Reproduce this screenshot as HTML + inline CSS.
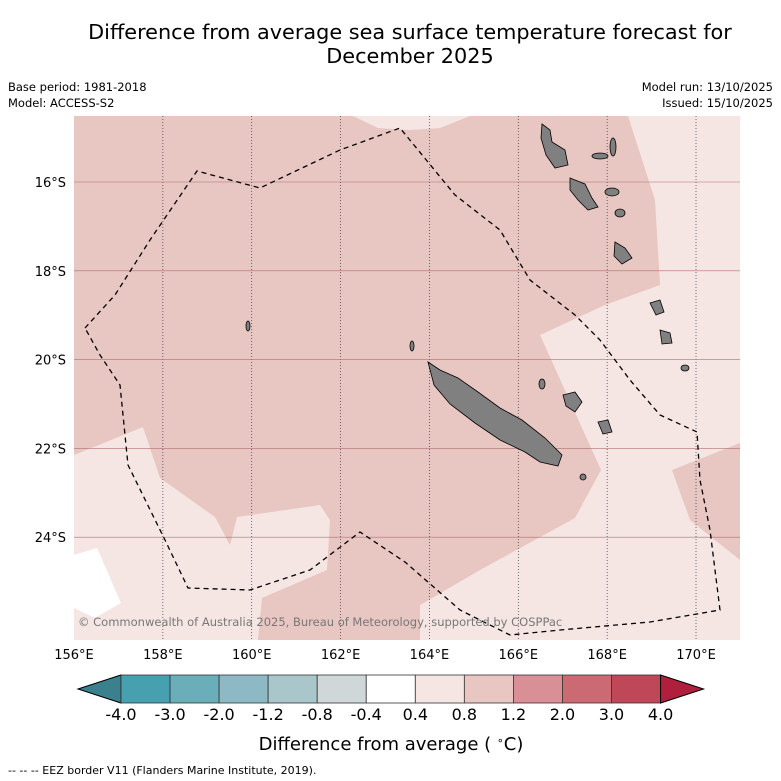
<!DOCTYPE html>
<html><head><meta charset="utf-8"><style>
body{margin:0;background:#fff;font-family:"DejaVu Sans","Liberation Sans",sans-serif}
svg{display:block}
</style></head><body>
<svg id="chart" width="781" height="781" viewBox="0 0 781 781" xmlns="http://www.w3.org/2000/svg" font-family="DejaVu Sans, Liberation Sans, sans-serif">
<text x="410" y="39" text-anchor="middle" font-size="20.8">Difference from average sea surface temperature forecast for</text>
<text x="410" y="63" text-anchor="middle" font-size="20.8">December 2025</text>
<text x="8" y="91" font-size="11.5">Base period: 1981-2018</text>
<text x="8" y="107" font-size="11.5">Model: ACCESS-S2</text>
<text x="773" y="91" font-size="11.5" text-anchor="end">Model run: 13/10/2025</text>
<text x="773" y="107" font-size="11.5" text-anchor="end">Issued: 15/10/2025</text>
<defs><clipPath id="mapclip"><rect x="74" y="116" width="666" height="524"/></clipPath></defs>
<g id="map" clip-path="url(#mapclip)">
<rect x="74" y="116" width="666" height="524" fill="#e8c6c1"/>
<polygon fill="#f5e6e4" points="74,455 143,427 160,478 215,517 230,545 237,517 320,505 330,520 327,570 262,598 258,640 74,640"/>
<polygon fill="#ffffff" points="74,555 97,548 121,603 95,618 74,608"/>
<polygon fill="#f5e6e4" points="353,116 378,128 410,130 440,128 470,116"/>
<polygon fill="#f5e6e4" points="628,116 655,200 660,285 605,305 540,335 601,470 575,518 480,570 420,605 420,640 740,640 740,560 690,520 672,470 740,443 740,116"/>
<g id="grid"></g>
<polyline fill="none" stroke="#000" stroke-width="1.3" stroke-dasharray="5,4" points="85,328 115,295 150,240 197,171 260,188 340,150 400,128 455,195 500,230 530,280 575,315 600,340 630,380 660,415 697,432 700,480 710,530 720,610 650,622 560,630 510,635 460,610 405,562 360,532 310,570 250,590 188,588 165,540 128,465 120,385 100,355 85,328"/>
<g fill="#808080" stroke="#000" stroke-width="0.8">
<polygon points="428,362 440,370 458,378 478,392 500,408 522,420 545,438 562,455 558,466 540,462 525,452 500,440 475,423 450,404 434,385"/>
<polygon points="542,124 550,130 552,142 565,150 568,165 555,168 546,155 541,138"/>
<polygon points="570,178 585,184 592,198 598,207 588,210 578,200 570,190"/>
<polygon points="615,242 625,248 632,258 622,264 614,256"/>
<polygon points="563,395 575,392 582,402 575,412 566,406"/>
<polygon points="598,422 608,420 612,432 603,434"/>
<polygon points="650,303 660,300 664,312 656,315"/>
<polygon points="660,330 670,333 672,343 662,344"/>
<ellipse cx="600" cy="156" rx="8" ry="3"/>
<ellipse cx="613" cy="147" rx="3" ry="9"/>
<ellipse cx="612" cy="192" rx="7" ry="4"/>
<ellipse cx="620" cy="213" rx="5" ry="4"/>
<ellipse cx="685" cy="368" rx="4" ry="3"/>
<ellipse cx="583" cy="477" rx="3" ry="3"/>
<ellipse cx="248" cy="326" rx="2" ry="5"/>
<ellipse cx="542" cy="384" rx="3" ry="5"/>
<ellipse cx="412" cy="346" rx="2" ry="5"/>
</g>
<text x="78" y="626" font-size="11.5" fill="#777">© Commonwealth of Australia 2025, Bureau of Meteorology, supported by COSPPac</text>
</g>
<g id="axes"></g>
<g id="colorbar"></g>
<text x="391" y="750" text-anchor="middle" font-size="18">Difference from average ( <tspan baseline-shift="super" font-size="11">∘</tspan>C)</text>
<text x="8" y="774" font-size="11">--  --  -- EEZ border V11 (Flanders Marine Institute, 2019).</text>
</svg>
<script>
const lonTicks=[156,158,160,162,164,166,168,170];
const latTicks=[16,18,20,22,24];
const levels=["-4.0","-3.0","-2.0","-1.2","-0.8","-0.4","0.4","0.8","1.2","2.0","3.0","4.0"];
const binColors=["#47a0b0","#6aaeb9","#8cb9c3","#a9c7cb","#cfd7d8","#ffffff","#f5e6e4","#e8c6c1","#d88f96","#cc6a74","#be4858"];
const NS="http://www.w3.org/2000/svg";
const xLon=l=>74+(l-156)*44.43;
const yLat=l=>182+(l-16)*44.4;
function mk(tag,attrs,parent,text){const e=document.createElementNS(NS,tag);for(const k in attrs)e.setAttribute(k,attrs[k]);if(text!==undefined)e.textContent=text;parent.appendChild(e);return e;}
const grid=document.getElementById('grid'),axes=document.getElementById('axes'),cb=document.getElementById('colorbar');
lonTicks.forEach(l=>{const x=xLon(l);
 if(l>156){const g=mk('line',{x1:x,x2:x,y1:116,y2:640,stroke:'#334',"stroke-width":0.7,"stroke-dasharray":"1,2"},grid);
 
 }
 const t=mk('text',{x:x,y:659,"text-anchor":"middle","font-size":13},axes,l+'°E');
 
 });
latTicks.forEach(l=>{const y=yLat(l);
 const g=mk('line',{x1:74,x2:740,y1:y,y2:y,stroke:'#b07070',"stroke-width":0.6},grid);
 
 
 const t=mk('text',{x:66,y:y+5,"text-anchor":"end","font-size":13},axes,l+'°S');
 
 });
const cx0=121,cw=49.05,cy=675,ch=28;
const lt=mk('polygon',{points:`78,${cy+ch/2} ${cx0},${cy} ${cx0},${cy+ch}`,fill:'#3a818d',stroke:'#000','stroke-width':1},cb);


binColors.forEach((c,i)=>{const r=mk('rect',{x:cx0+i*cw,y:cy,width:cw,height:ch,fill:c,stroke:'#333','stroke-width':0.8},cb);
 
 });
const xe=cx0+binColors.length*cw;
const rt=mk('polygon',{points:`${xe},${cy} ${xe+43},${cy+ch/2} ${xe},${cy+ch}`,fill:'#b0203c',stroke:'#000','stroke-width':1},cb);


levels.forEach((v,i)=>{const t=mk('text',{x:cx0+i*cw,y:720,"text-anchor":"middle","font-size":16},cb,v);
 
 });
</script>
</body></html>
